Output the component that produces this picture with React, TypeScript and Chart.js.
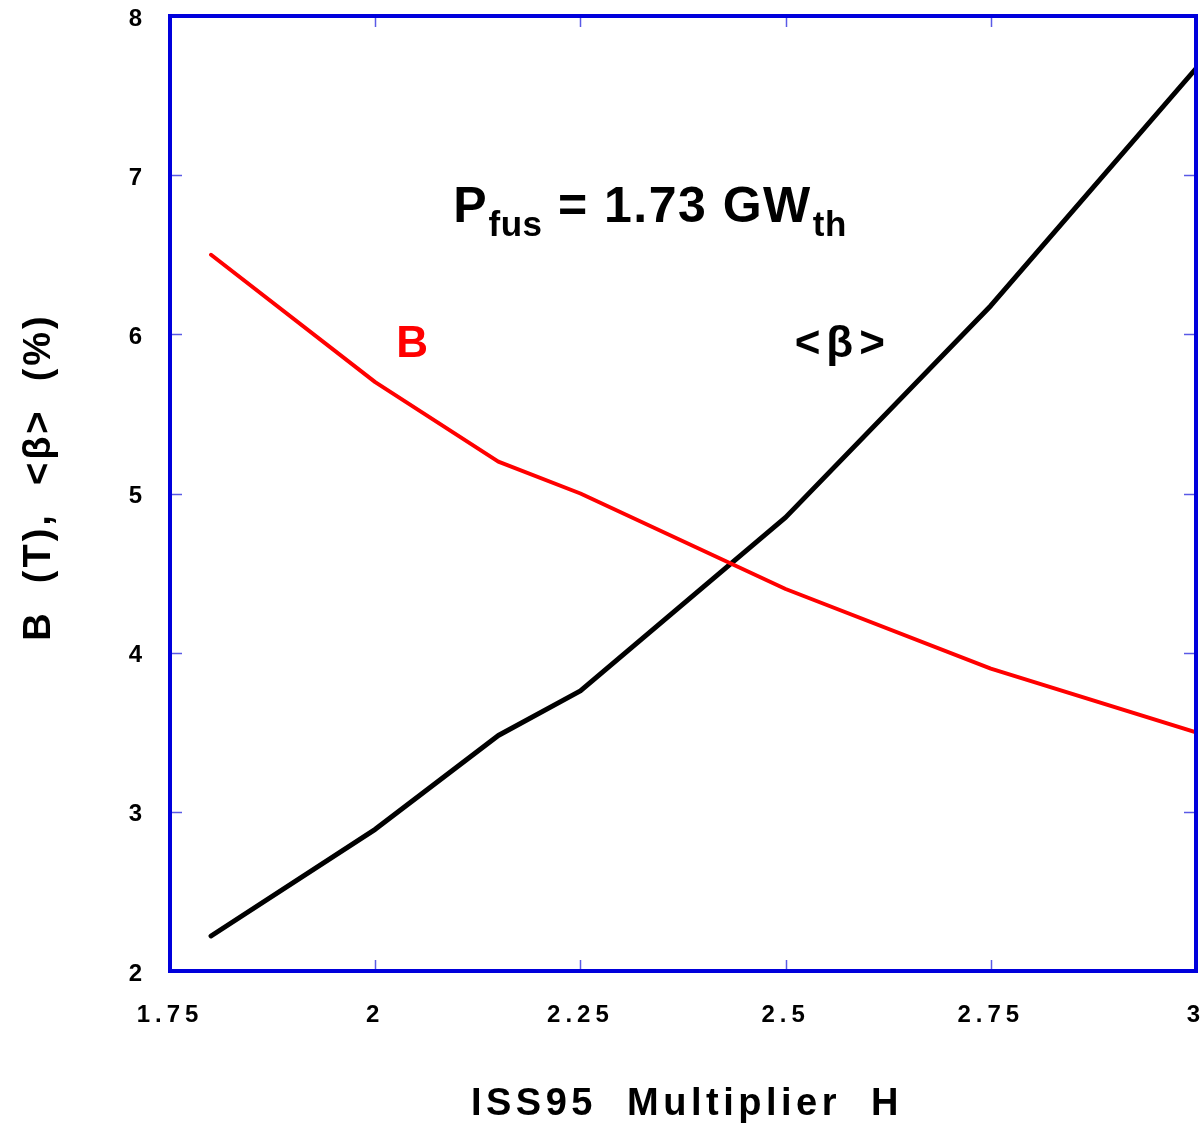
import React, { useEffect, useRef } from "react";
import { Chart, registerables } from "chart.js";

Chart.register(...registerables);

// ---- data ----
const hValues = [1.8, 2.0, 2.15, 2.25, 2.5, 2.75, 3.0];
const fieldB = [6.5, 5.7, 5.2, 5.0, 4.4, 3.9, 3.5];
const betaAvg = [2.22, 2.89, 3.48, 3.76, 4.85, 6.18, 7.67];
const xTickLabels = ["1.75", "2", "2.25", "2.5", "2.75", "3"];
const yTickLabels = ["2", "3", "4", "5", "6", "7", "8"];
const xTitle = "ISS95  Multiplier  H";
const yTitle = "B  (T),  <β>  (%)";
const labelB = "B";
const labelBeta = "<β>";
const pfusParts = ["P", "fus", " = 1.73 GW", "th"];
// annotation anchors in data units [x, y]
const labelBPos = [2.045, 5.858];
const labelBetaPos = [2.511, 5.858];
const pfusPos = [2.095, 6.706];

const FONT = 'Arial, "Liberation Sans", Helvetica, sans-serif';

const framePlugin = {
  id: "frame",
  beforeDraw(chart: any) {
    chart.ctx.letterSpacing = "5px";
  },
  afterDraw(chart: any) {
    const ctx = chart.ctx as CanvasRenderingContext2D;
    const { left, right, top, bottom } = chart.chartArea;
    const xs = chart.scales.x;
    const ys = chart.scales.y;
    ctx.save();
    (ctx as any).letterSpacing = "0px";

    // inward ticks
    ctx.strokeStyle = "#5a5ae6";
    ctx.lineWidth = 1.5;
    const seg = (x1: number, y1: number, x2: number, y2: number) => {
      ctx.beginPath();
      ctx.moveTo(x1, y1);
      ctx.lineTo(x2, y2);
      ctx.stroke();
    };
    xs.ticks.forEach((t: any) => {
      if (t.value <= xs.min || t.value >= xs.max) return;
      const px = Math.round(xs.getPixelForValue(t.value)) + 0.5;
      seg(px, bottom, px, bottom - 11);
      seg(px, top, px, top + 11);
    });
    ys.ticks.forEach((t: any) => {
      if (t.value <= ys.min || t.value >= ys.max) return;
      const py = Math.round(ys.getPixelForValue(t.value)) + 0.5;
      seg(left, py, left + 12, py);
      seg(right, py, right - 12, py);
    });

    // frame
    ctx.strokeStyle = "#0000dc";
    ctx.lineWidth = 4;
    ctx.strokeRect(left, top, right - left, bottom - top);

    // series labels
    ctx.textBaseline = "alphabetic";
    ctx.font = `bold 44px ${FONT}`;
    ctx.fillStyle = "#ff0000";
    ctx.textAlign = "center";
    ctx.fillText(labelB, xs.getPixelForValue(labelBPos[0]), ys.getPixelForValue(labelBPos[1]));
    ctx.fillStyle = "#000";
    ctx.textAlign = "left";
    (ctx as any).letterSpacing = "6px";
    ctx.fillText(labelBeta, xs.getPixelForValue(labelBetaPos[0]), ys.getPixelForValue(labelBetaPos[1]));
    (ctx as any).letterSpacing = "0px";

    // P_fus annotation
    let px = xs.getPixelForValue(pfusPos[0]);
    const by = ys.getPixelForValue(pfusPos[1]);
    ctx.font = `bold 50px ${FONT}`;
    ctx.fillText(pfusParts[0], px, by);
    px += ctx.measureText(pfusParts[0]).width + 2;
    ctx.font = `bold 35px ${FONT}`;
    (ctx as any).letterSpacing = "0.5px";
    ctx.fillText(pfusParts[1], px, by + 14);
    px += ctx.measureText(pfusParts[1]).width;
    ctx.font = `bold 50px ${FONT}`;
    (ctx as any).letterSpacing = "1.5px";
    ctx.fillText(pfusParts[2], px, by);
    px += ctx.measureText(pfusParts[2]).width + 1;
    ctx.font = `bold 35px ${FONT}`;
    (ctx as any).letterSpacing = "0.5px";
    ctx.fillText(pfusParts[3], px, by + 14);

    // axis titles
    ctx.font = `bold 38px ${FONT}`;
    (ctx as any).letterSpacing = "4.5px";
    ctx.textAlign = "center";
    ctx.fillText(xTitle, (left + right) / 2 + 4, 1115);
    (ctx as any).letterSpacing = "3px";
    ctx.translate(50, 477);
    ctx.rotate(-Math.PI / 2);
    ctx.fillText(yTitle, 0, 0);
    ctx.restore();
  },
};

export default function App() {
  const ref = useRef<HTMLCanvasElement>(null);
  useEffect(() => {
    if (!ref.current) return;
    const chart = new Chart(ref.current, {
      type: "line",
      data: {
        datasets: [
          {
            label: "B",
            data: hValues.map((h, i) => ({ x: h, y: fieldB[i] })),
            borderColor: "#ff0000",
            borderWidth: 4,
            pointRadius: 0,
            tension: 0,
            borderCapStyle: "round",
            borderJoinStyle: "round",
          },
          {
            label: "<β>",
            data: hValues.map((h, i) => ({ x: h, y: betaAvg[i] })),
            borderColor: "#000000",
            borderWidth: 5,
            pointRadius: 0,
            tension: 0,
            borderCapStyle: "round",
            borderJoinStyle: "round",
          },
        ],
      },
      options: {
        responsive: false,
        animation: false,
        devicePixelRatio: 1,
        layout: { padding: { left: 0, right: 7, top: 16, bottom: 0 } },
        plugins: { legend: { display: false }, tooltip: { enabled: false } },
        scales: {
          x: {
            type: "linear",
            min: 1.75,
            max: 3,
            grid: { display: false, drawTicks: false },
            border: { display: false },
            ticks: {
              stepSize: 0.25,
              autoSkip: false,
              maxRotation: 0,
              padding: 30,
              color: "#000",
              font: { family: FONT, size: 24, weight: "bold" },
              callback: (_v: any, i: number) => xTickLabels[i],
            },
            afterFit: (s: any) => {
              s.height = 152;
              s.paddingLeft = 0;
              s.paddingRight = 0;
            },
          },
          y: {
            type: "linear",
            min: 2,
            max: 8,
            grid: { display: false, drawTicks: false },
            border: { display: false },
            ticks: {
              stepSize: 1,
              autoSkip: false,
              padding: 23,
              labelOffset: 3,
              color: "#000",
              font: { family: FONT, size: 24, weight: "bold" },
              callback: (_v: any, i: number) => yTickLabels[i],
            },
            afterFit: (s: any) => {
              s.width = 170;
              s.paddingTop = 0;
              s.paddingBottom = 0;
            },
          },
        },
      },
      plugins: [framePlugin],
    } as any);
    return () => chart.destroy();
  }, []);
  return (
    <div style={{ position: "fixed", left: 0, top: 0, width: 1203, height: 1123, background: "#fff" }}>
      <canvas ref={ref} width={1203} height={1123} style={{ display: "block" }} />
    </div>
  );
}
